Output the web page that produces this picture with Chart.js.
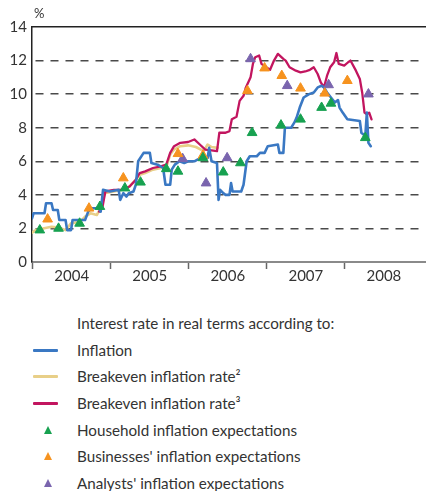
<!DOCTYPE html>
<html>
<head>
<meta charset="utf-8">
<script src="https://cdn.jsdelivr.net/npm/chart.js@4.4.1/dist/chart.umd.min.js"></script>
<style>
  html, body { margin: 0; padding: 0; background: #fff; }
  body { width: 432px; height: 491px; position: relative; overflow: hidden; font-family: Lato, "Open Sans", sans-serif; color: #333; }
  #chart { position: absolute; left: 0; top: 0; }
  #pct { position: absolute; left: 34px; top: 5px; font-size: 13px; }
  #legend { position: absolute; left: 0; top: 310px; width: 432px; font-size: 15.2px; }
  .row { height: 26.7px; line-height: 26.7px; position: relative; padding-left: 77px; white-space: nowrap; }
  .sw { position: absolute; }
  .sw.line { left: 33px; top: 12px; width: 25px; height: 3px; border-radius: 1px; }
  .sw.tri { left: 44px; top: 9px; width: 0; height: 0; border-left: 4px solid transparent; border-right: 4px solid transparent; border-bottom: 8px solid; }
</style>
</head>
<body>
<canvas id="chart" width="432" height="300"></canvas>
<div id="pct">%</div>
<div id="legend"></div>
<script>
// axis
const yearTicks = [2004, 2005, 2006, 2007, 2008];
const yMin = 0, yMax = 14, yStep = 2;

// real interest rate according to inflation (blue)
const inflX = [2004.00, 2004.02, 2004.16, 2004.18, 2004.25, 2004.27, 2004.33, 2004.35, 2004.43, 2004.45,
  2004.50, 2004.52, 2004.68, 2004.72, 2004.76, 2004.86, 2004.88, 2004.91, 2005.00, 2005.11,
  2005.13, 2005.17, 2005.21, 2005.24, 2005.30, 2005.33, 2005.36, 2005.43, 2005.51, 2005.53,
  2005.61, 2005.68, 2005.71, 2005.77, 2005.79, 2005.83, 2005.89, 2005.95, 2006.00, 2006.08,
  2006.16, 2006.25, 2006.27, 2006.30, 2006.37, 2006.39, 2006.41, 2006.45, 2006.48, 2006.53,
  2006.55, 2006.57, 2006.68, 2006.71, 2006.75, 2006.79, 2006.88, 2006.92, 2006.98, 2007.02,
  2007.15, 2007.17, 2007.22, 2007.24, 2007.32, 2007.36, 2007.39, 2007.43, 2007.48, 2007.55,
  2007.61, 2007.66, 2007.71, 2007.74, 2007.78, 2007.83, 2007.88, 2007.92, 2007.94, 2007.98,
  2008.04, 2008.20, 2008.22, 2008.27, 2008.29, 2008.31, 2008.34];
const inflY = [2.6, 2.9, 2.9, 3.5, 3.5, 3.1, 3.1, 2.5, 2.5, 1.9,
  1.9, 2.5, 2.5, 3.0, 3.2, 3.2, 3.0, 4.3, 4.2, 4.3,
  3.7, 4.1, 3.9, 4.1, 4.2, 4.6, 6.0, 6.5, 6.5, 5.9,
  5.8, 5.6, 4.6, 4.6, 5.5, 5.8, 6.0, 5.9, 6.0, 6.0,
  6.2, 6.2, 6.8, 6.0, 5.9, 3.7, 4.3, 4.1, 4.0, 4.0,
  4.7, 4.2, 4.2, 4.6, 6.0, 6.3, 6.3, 6.5, 6.5, 6.9,
  7.0, 6.5, 6.5, 8.0, 8.0, 8.3, 8.6, 9.2, 9.8, 10.0,
  10.1, 10.4, 10.5, 10.4, 10.1, 9.8, 9.5, 9.65, 9.2, 8.9,
  8.5, 8.4, 7.7, 7.5, 8.9, 7.1, 6.9];

// breakeven inflation rate 2 (tan)
const be2X = [2004.00, 2004.05, 2004.14, 2004.25, 2004.35, 2004.43, 2004.50, 2004.62, 2004.68, 2004.75,
  2004.83, 2004.89, 2004.93, 2005.05, 2005.15, 2005.25, 2005.33, 2005.38, 2005.45, 2005.55,
  2005.65, 2005.72, 2005.77, 2005.82, 2005.90, 2006.00, 2006.10, 2006.20, 2006.25, 2006.30, 2006.38];
const be2Y = [1.75, 1.9, 2.0, 2.1, 2.05, 1.9, 2.3, 2.4, 2.7, 2.9,
  2.8, 3.3, 4.1, 4.2, 4.3, 4.5, 4.9, 5.2, 5.3, 5.5,
  5.6, 5.65, 6.4, 6.7, 6.9, 6.95, 6.85, 6.6, 7.0, 6.85, 6.8];

// breakeven inflation rate 3 (magenta)
const be3X = [2004.86, 2004.90, 2004.94, 2005.05, 2005.15, 2005.25, 2005.33, 2005.38, 2005.45, 2005.55,
  2005.65, 2005.72, 2005.77, 2005.82, 2005.90, 2006.00, 2006.08, 2006.15, 2006.22, 2006.30,
  2006.37, 2006.40, 2006.48, 2006.53, 2006.56, 2006.62, 2006.66, 2006.71, 2006.74, 2006.78,
  2006.80, 2006.83, 2006.86, 2006.91, 2006.94, 2007.00, 2007.05, 2007.10, 2007.15, 2007.22,
  2007.25, 2007.30, 2007.38, 2007.44, 2007.50, 2007.56, 2007.61, 2007.66, 2007.70, 2007.74,
  2007.78, 2007.82, 2007.87, 2007.90, 2007.93, 2008.00, 2008.05, 2008.08, 2008.15, 2008.20,
  2008.23, 2008.26, 2008.29, 2008.32, 2008.35];
const be3Y = [3.0, 3.2, 4.2, 4.3, 4.3, 4.5, 4.9, 5.3, 5.4, 5.6,
  5.7, 5.8, 6.5, 6.9, 7.1, 7.15, 7.3, 7.0, 6.7, 6.65,
  6.6, 7.7, 7.7, 7.8, 8.5, 8.65, 9.6, 9.9, 10.4, 10.8,
  11.0, 11.8, 12.2, 12.3, 11.8, 11.6, 11.45, 12.0, 12.4, 12.1,
  12.0, 11.6, 11.4, 11.3, 11.35, 11.45, 11.6, 11.2, 10.7, 10.4,
  11.1, 11.6, 11.9, 12.45, 11.8, 11.7, 11.9, 12.0, 11.4, 10.9,
  10.1, 8.9, 8.8, 8.9, 8.5];

// survey based expectations (triangles)
const householdX = [2004.10, 2004.34, 2004.61, 2004.87, 2005.19, 2005.39, 2005.72, 2005.87, 2006.19,
  2006.45, 2006.67, 2006.82, 2007.19, 2007.44, 2007.71, 2007.83, 2008.27];
const householdY = [1.9, 2.0, 2.3, 3.3, 4.4, 4.75, 5.55, 5.4, 6.2,
  5.35, 5.9, 7.7, 8.15, 8.5, 9.2, 9.45, 7.4];
const businessX = [2004.20, 2004.73, 2005.17, 2005.87, 2006.19, 2006.76, 2006.98, 2007.20, 2007.44, 2007.75, 2008.04];
const businessY = [2.55, 3.2, 5.0, 6.45, 6.35, 10.2, 11.55, 11.1, 10.35, 10.05, 10.8];
const analystX = [2005.93, 2006.23, 2006.50, 2006.80, 2007.27, 2007.80, 2008.31];
const analystY = [6.15, 4.7, 6.2, 12.1, 10.5, 10.55, 10.0];

const names = ['Inflation', 'Breakeven inflation rate\u00b2', 'Breakeven inflation rate\u00b3',
  'Household inflation expectations', "Businesses' inflation expectations", "Analysts' inflation expectations"];
const colors = ['#3a78c3', '#e8cf88', '#c2155f', '#17a150', '#f6931f', '#7a65ae'];

const pts = (xs, ys) => xs.map((x, i) => ({ x: x, y: ys[i] }));

function lineSet(xs, ys, i, w) {
  return { label: names[i], data: pts(xs, ys), showLine: true, borderColor: colors[i], backgroundColor: colors[i],
    borderWidth: w, pointRadius: 0, borderJoinStyle: 'round', borderCapStyle: 'round', tension: 0 };
}
function triSet(xs, ys, i) {
  return { label: names[i], data: pts(xs, ys), showLine: false, pointStyle: 'triangle', pointRadius: 5.6,
    backgroundColor: colors[i], borderColor: colors[i], borderWidth: 1 };
}

const ctx = document.getElementById('chart').getContext('2d');
new Chart(ctx, {
  type: 'scatter',
  data: {
    datasets: [
      triSet(householdX, householdY, 3),
      triSet(businessX, businessY, 4),
      triSet(analystX, analystY, 5),
      lineSet(inflX, inflY, 0, 2.6),
      lineSet(be3X, be3Y, 2, 2.3),
      lineSet(be2X, be2Y, 1, 2.6)
    ]
  },
  options: {
    responsive: false,
    animation: false,
    layout: { padding: { top: 27, left: 0, right: 0, bottom: 0 } },
    plugins: { legend: { display: false }, tooltip: { enabled: false } },
    scales: {
      x: {
        type: 'linear', position: 'bottom', min: 2004, max: 2009.04,
        afterBuildTicks: s => { s.ticks = yearTicks.map(v => ({ value: v })); },
        afterFit: s => { s.height = 38; },
        ticks: { callback: v => String(Math.round(v)), labelOffset: 39.7, padding: -2, maxRotation: 0, autoSkip: false,
          color: '#333', font: { family: 'Lato', size: 15 } },
        grid: { drawOnChartArea: false, drawTicks: true, tickLength: 7, tickColor: '#666', tickWidth: 1.5 },
        border: { color: '#8a8a8a', width: 2 }
      },
      xTop: {
        type: 'linear', position: 'top', min: 2004, max: 2009.04,
        afterFit: s => { s.height = 0; },
        ticks: { display: false },
        grid: { display: false },
        border: { color: '#222', width: 1.5 }
      },
      y: {
        min: yMin, max: yMax,
        afterFit: s => { s.width = 32; },
        ticks: { stepSize: yStep, padding: 5, color: '#333', font: { family: 'Lato', size: 15 } },
        grid: {
          drawTicks: false, lineWidth: 1.4,
          color: c => (c.tick && (c.tick.value === yMin || c.tick.value === yMax)) ? 'rgba(0,0,0,0)' : '#4a4a4a'
        },
        border: { color: '#222', width: 1.5, dash: [8, 7], dashOffset: 12 }
      }
    }
  }
});

// legend below the chart
const legend = document.getElementById('legend');
let html = '<div class="row">Interest rate in real terms according to:</div>';
names.forEach((n, i) => {
  const sw = i < 3
    ? `<span class="sw line" style="background:${colors[i]}"></span>`
    : `<span class="sw tri" style="border-bottom-color:${colors[i]}"></span>`;
  html += `<div class="row">${sw}${n}</div>`;
});
legend.innerHTML = html;
</script>
</body>
</html>
